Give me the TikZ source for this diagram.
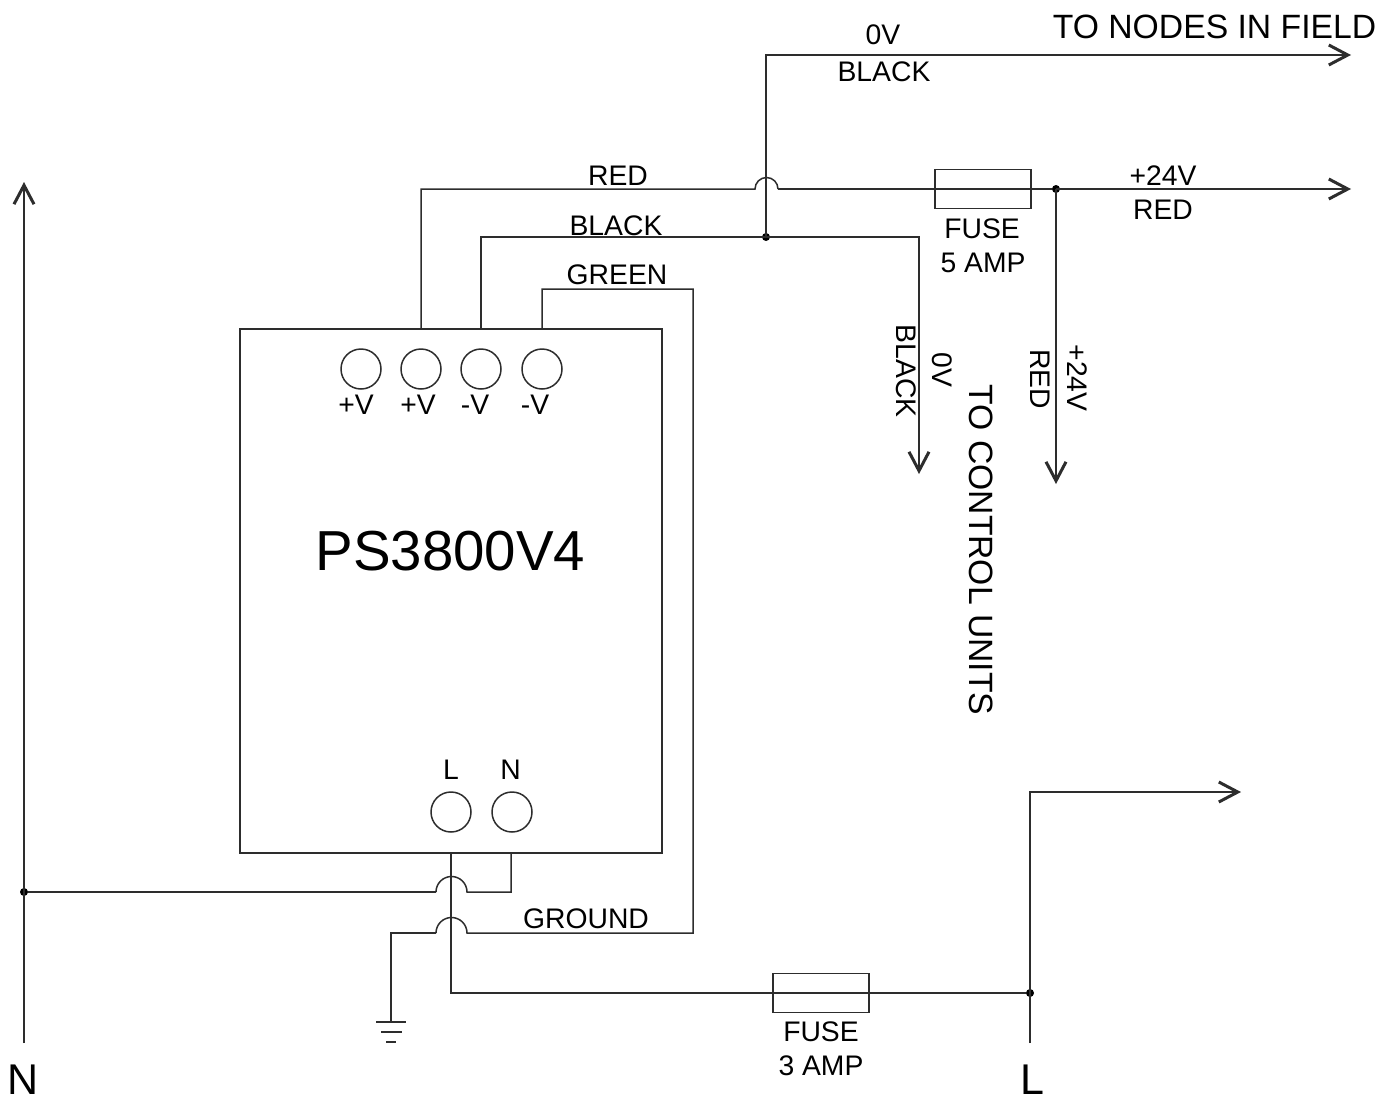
\documentclass[tikz,border=0pt]{standalone}
\usepackage{fontspec}
\setmainfont{Liberation Sans}
\usetikzlibrary{arrows.meta}
\tikzset{
  wire/.style={draw=wirecol,line width=1.5pt,line join=miter},
  arrowwire/.style={wire,-{Straight Barb[length=19pt,width=20pt,line width=3pt]}},
  lab/.style={inner sep=0pt,text=black,font=\fontsize{28.3}{30}\selectfont},
  biglab/.style={inner sep=0pt,text=black,font=\fontsize{33.7}{36}\selectfont},
  termlab/.style={inner sep=0pt,text=black,font=\fontsize{43}{44}\selectfont},
  titlelab/.style={inner sep=0pt,text=black,font=\fontsize{56.4}{60}\selectfont},
  term/.style={circle,draw=wirecol,line width=1.5pt,minimum size=40pt,inner sep=0pt,fill=white},
  fuse/.style={rectangle,draw=wirecol,line width=1.5pt,minimum width=96pt,minimum height=39pt,inner sep=0pt},
  psu/.style={rectangle,draw=wirecol,line width=1.5pt,minimum width=422pt,minimum height=524pt,inner sep=0pt},
  junction/.style={circle,fill=black,minimum size=8pt,inner sep=0pt},
}
\definecolor{wirecol}{RGB}{45,45,45}
\begin{document}
\begin{tikzpicture}[x=1pt,y=-1pt]
\useasboundingbox[fill=white] (0,0) rectangle (1391,1100);
% power supply and terminals
\node[psu] (ps) at (451,591) {};
\node[term] (t1) at (361,369) {};
\node[term] (t2) at (421,369) {};
\node[term] (t3) at (481,369) {};
\node[term] (t4) at (542,369) {};
\node[term] (tl) at (451,812) {};
\node[term] (tn) at (512,812) {};
% fuses
\node[fuse] (f5) at (983,189) {};
\node[fuse] (f3) at (821,993) {};
% anchor points
\coordinate (redtop) at (421,329);
\coordinate (blacktop) at (481,329);
\coordinate (greentop) at (542,329);
\coordinate (lbot) at (451,853);
\coordinate (nbot) at (511,853);
\node[junction] (j0v) at (766,237) {};
\node[junction] (j24) at (1056,189) {};
\node[junction] (jl) at (1030,993) {};
\node[junction] (jn) at (24,892) {};
\coordinate (red0) at (755,189);
\coordinate (red1) at (778,189);
\coordinate (redend) at (1351,189);
\coordinate (blackend) at (919,474);
\coordinate (zeroend) at (1351,55);
\coordinate (plusend) at (1056,484);
\coordinate (g0) at (467,933);
\coordinate (g1) at (436,933);
\coordinate (n0) at (467,892);
\coordinate (n1) at (436,892);
\coordinate (gnd) at (391,1022);
\coordinate (Lstart) at (1030,1043);
\coordinate (Lend) at (1241,792);
\coordinate (Nstart) at (24,1043);
\coordinate (Nend) at (24,182);
% wires
\draw[wire] (redtop) |- (red0) arc[start angle=180,end angle=0,radius=11.5pt];
\draw[wire] (red1) -- (f5.west);
\draw[wire] (f5.west) -- (f5.east) -- (j24);
\draw[arrowwire] (j24.center) -- (redend);
\draw[arrowwire] (j24.center) -- (plusend);
\draw[arrowwire] (blacktop) |- (j0v.center) -| (blackend);
\draw[arrowwire] (j0v.center) |- (zeroend);
\draw[wire] (greentop) |- (693,289) |- (g0) arc[start angle=0,end angle=180,radius=15.5pt];
\draw[wire] (g1) -| (gnd);
\draw[wire] (lbot) |- (f3.west);
\draw[wire] (f3.west) -- (f3.east) -- (jl);
\draw[arrowwire] (Lstart) |- (Lend);
\draw[wire] (nbot) |- (n0) arc[start angle=0,end angle=180,radius=15.5pt];
\draw[wire] (n1) -- (jn);
\draw[arrowwire] (Nstart) -- (Nend);
% ground symbol
\coordinate (g1a) at (376,1022); \coordinate (g1b) at (406,1022);
\coordinate (g2a) at (381,1032); \coordinate (g2b) at (402,1032);
\coordinate (g3a) at (386,1042); \coordinate (g3b) at (396,1042);
\draw[wire] (g1a) -- (g1b);
\draw[wire] (g2a) -- (g2b);
\draw[wire] (g3a) -- (g3b);
% labels
\node[titlelab] (title) at (450.5,551) {PS3800V4};
\node[biglab] (lnodes) at (1214.5,27) {TO NODES IN FIELD};
\node[biglab,rotate=-90] (lunits) at (981,550) {TO CONTROL UNITS};
\node[termlab] (bign) at (23.5,1080) {N};
\node[termlab] (bigl) at (1032.5,1080) {L};
\node[lab] (a1) at (618,176) {RED};
\node[lab] (a2) at (616,226) {BLACK};
\node[lab] (a3) at (617,275) {GREEN};
\node[lab] (a4) at (883,35) {0V};
\node[lab] (a5) at (884,72) {BLACK};
\node[lab] (a6) at (1163,176) {+24V};
\node[lab] (a7) at (1163,210) {RED};
\node[lab] (a8) at (982,229) {FUSE};
\node[lab] (a9) at (983,263) {5 AMP};
\node[lab] (a10) at (821,1032) {FUSE};
\node[lab] (a11) at (821,1066) {3 AMP};
\node[lab] (a12) at (586,919) {GROUND};
\node[lab] (p1) at (356,405) {+V};
\node[lab] (p2) at (418,405) {+V};
\node[lab] (p3) at (475,405) {-V};
\node[lab] (p4) at (535,405) {-V};
\node[lab] (p5) at (451,770) {L};
\node[lab] (p6) at (510.5,770) {N};
\node[lab,rotate=-90] (r1) at (942,370) {0V};
\node[lab,rotate=-90] (r2) at (906,371) {BLACK};
\node[lab,rotate=-90] (r3) at (1040,379) {RED};
\node[lab,rotate=-90] (r4) at (1077,378) {+24V};
\end{tikzpicture}
\end{document}
